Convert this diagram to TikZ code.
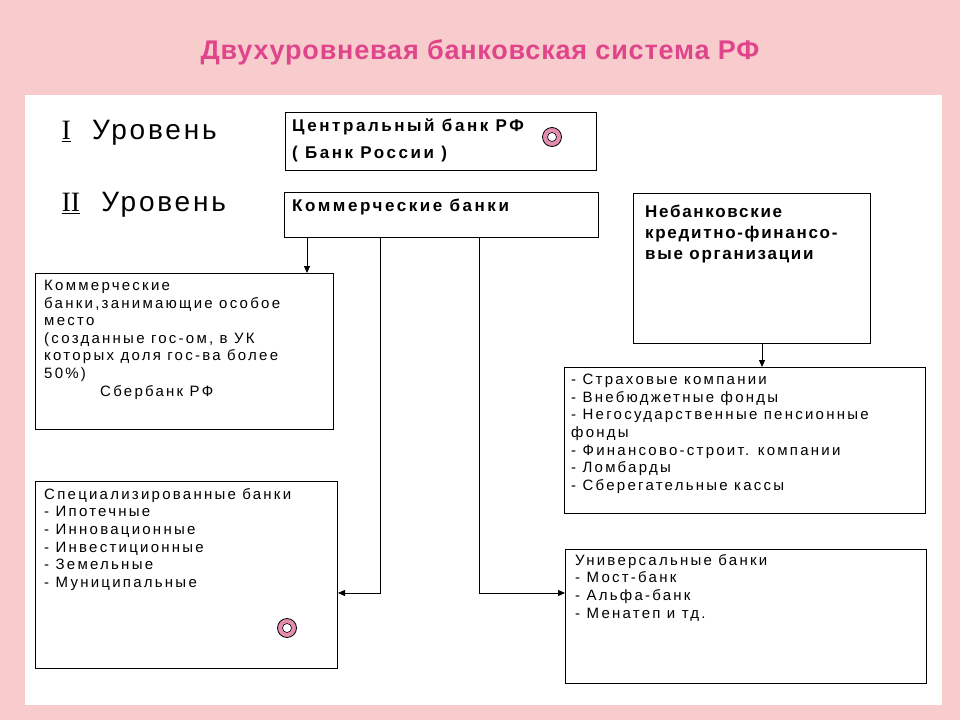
\documentclass[tikz,border=0pt]{standalone}
\usepackage{fontspec}
\setmainfont{Liberation Sans}
\usetikzlibrary{arrows.meta}
\definecolor{bgpink}{HTML}{F8CCCC}
\definecolor{titlec}{HTML}{E0458C}
\definecolor{ringc}{HTML}{E58DB0}
\begin{document}
\begin{tikzpicture}[x=1pt,y=-1pt,
  box/.style={draw,line width=1pt,anchor=north west,inner sep=0pt},
  txt/.style={anchor=north west,align=left,inner sep=0pt,font=\fontsize{15}{17.6}\selectfont\addfontfeature{LetterSpace=15}},
  btxt/.style={anchor=north west,align=left,inner sep=0pt,font=\fontsize{17}{21}\selectfont\bfseries\addfontfeature{LetterSpace=15}},
  conn/.style={line width=0.8pt},
  arr/.style={conn,-{Triangle[length=7pt,width=6pt]}},
  ring/.style={circle,draw=black,line width=0.8pt,fill=ringc,minimum size=19pt,inner sep=0pt,path picture={\fill[white] (path picture bounding box.center) circle (4.5pt); \draw[line width=0.6pt] (path picture bounding box.center) circle (4.5pt);}}]
\fill[bgpink] (0,0) rectangle (960,720);
\fill[white] (25,95) rectangle (942,705);
\node[font=\fontsize{27}{30}\selectfont\bfseries\addfontfeature{LetterSpace=3},text=titlec] (title) at (480,52) {Двухуровневая банковская система РФ};
\node[anchor=west,font=\fontsize{28}{30}\selectfont\addfontfeature{LetterSpace=10}] (l1) at (58,133) {\underline{\fontspec{Liberation Serif}I}\ \ Уровень};
\node[anchor=west,font=\fontsize{28}{30}\selectfont\addfontfeature{LetterSpace=10}] (l2) at (58,205) {\underline{\fontspec{Liberation Serif}II}\ \ Уровень};
\node[box,minimum width=311pt,minimum height=58pt] (cb) at (285,112) {};
\node[btxt,font=\fontsize{17}{27}\selectfont\bfseries\addfontfeature{LetterSpace=15}] (cbt) at (292,119) {Центральный банк РФ\\( Банк России )};
\node[ring] (r1) at (552,137) {};
\node[box,minimum width=314pt,minimum height=45pt] (kb) at (284,192) {};
\node[btxt] (kbt) at (292,199) {Коммерческие банки};
\node[box,minimum width=237pt,minimum height=150pt] (nb) at (633,193) {};
\node[btxt,font=\fontsize{17}{21}\selectfont\bfseries\addfontfeature{LetterSpace=10}] (nbt) at (645,205) {Небанковские\\кредитно-финансо-\\вые организации};
\node[box,minimum width=298pt,minimum height=156pt] (b1) at (35,273) {};
\node[txt] (b1t) at (44,280) {Коммерческие\\банки,занимающие особое\\место\\(созданные гос-ом, в УК\\которых доля гос-ва более\\50\%)\\\hspace*{56pt}Сбербанк РФ};
\node[box,minimum width=361pt,minimum height=146pt] (b4) at (564,367) {};
\node[txt] (b4t) at (571,374) {- Страховые компании\\- Внебюджетные фонды\\- Негосударственные пенсионные\\фонды\\- Финансово-строит. компании\\- Ломбарды\\- Сберегательные кассы};
\node[box,minimum width=302pt,minimum height=187pt] (b2) at (35,481) {};
\node[txt] (b2t) at (44,488) {Специализированные банки\\- Ипотечные\\- Инновационные\\- Инвестиционные\\- Земельные\\- Муниципальные};
\node[ring] (r2) at (287,628) {};
\node[box,minimum width=361pt,minimum height=134pt] (b3) at (565,549) {};
\node[txt] (b3t) at (575,554) {Универсальные банки\\- Мост-банк\\- Альфа-банк\\- Менатеп и тд.};
\coordinate (c1) at (380,593);
\coordinate (c2) at (479,593);
\draw[arr] (307,237) -- (307,273);
\draw[arr] (380,237) -- (c1) -- (b2.east |- c1);
\draw[arr] (479,237) -- (c2) -- (b3.west |- c2);
\draw[arr] (762,343) -- (762,367);
\end{tikzpicture}
\end{document}
